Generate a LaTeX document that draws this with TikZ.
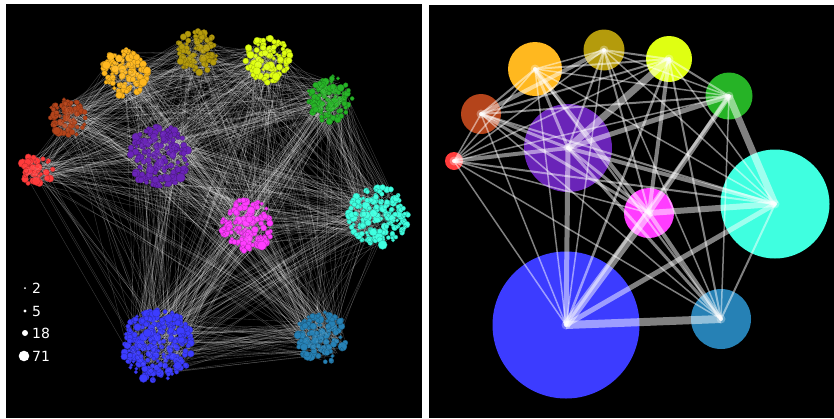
\documentclass[tikz,border=0pt]{standalone}
\usepackage{fontspec}
\setmainfont{DejaVu Sans}
\usetikzlibrary{calc}
\definecolor{cR}{HTML}{FF3B3B}
\definecolor{cBr}{HTML}{B4441B}
\definecolor{cO}{HTML}{FFB81F}
\definecolor{cOl}{HTML}{B49B0C}
\definecolor{cY}{HTML}{DFFF12}
\definecolor{cG}{HTML}{26B326}
\definecolor{cP}{HTML}{6A24B8}
\definecolor{cC}{HTML}{3FFFE0}
\definecolor{cM}{HTML}{FF3CFF}
\definecolor{cB}{HTML}{3C3CFF}
\definecolor{cS}{HTML}{2681B5}
\def\radR{16}\def\radBr{19}\def\radO{24}\def\radOl{21}\def\radY{23}\def\radG{23}
\def\radP{31}\def\radM{26}\def\radC{30}\def\radB{36}\def\radS{26}
\def\edgelist{B/R/1.5, B/Br/1.5, B/O/1.5, B/Ol/1.5, B/Y/2.5, B/G/3, B/P/5, B/M/8, B/C/5, B/S/8,
S/R/1.5, S/Br/1.5, S/O/2, S/Ol/1.5, S/Y/2, S/G/1.5, S/P/3, S/M/4, S/C/2,
C/R/2, C/Br/2, C/O/1.5, C/Ol/1.5, C/Y/1.5, C/G/7, C/P/4, C/M/6,
M/R/1.5, M/Br/3, M/O/4, M/Ol/2, M/Y/4, M/G/5, M/P/3,
P/R/4, P/Br/3, P/O/3, P/Ol/2, P/Y/7, P/G/5,
R/Br/1.5, R/O/1.5, R/Ol/1.5, R/Y/1.5, R/G/1.5,
Br/O/2, Br/Ol/4, Br/Y/2, Br/G/2,
O/Ol/1.5, O/Y/2, O/G/1.5,
Ol/Y/2, Ol/G/1.5,
Y/G/2}
\begin{document}
\begin{tikzpicture}[x=1pt,y=-1pt,
  panel/.style={fill=black},
  ledge/.style={white, opacity=0.25, line width=0.35pt},
  iedge/.style={opacity=0.3, line width=0.3pt},
  bubble/.style={circle, inner sep=0pt, draw=none},
  redge/.style={white, opacity=0.5},
  legtext/.style={anchor=west, text=white, inner sep=0pt, font=\fontsize{14}{16}\selectfont}]
\useasboundingbox (0,0) rectangle (834,418);
\fill[white] (0,0) rectangle (834,418);
\fill[panel] (6,4) rectangle (422,418);
\fill[panel] (429,5) rectangle (834,418);
% ---------------- left panel ----------------
\coordinate (LR) at (37,170);
\coordinate (LBr) at (67,118);
\coordinate (LO) at (125,72);
\coordinate (LOl) at (197,52);
\coordinate (LY) at (268,60);
\coordinate (LG) at (330,99);
\coordinate (LP) at (159,156);
\coordinate (LM) at (247,225);
\coordinate (LC) at (378,216);
\coordinate (LB) at (157,345);
\coordinate (LS) at (322,337);
\pgfmathsetseed{7}
\foreach \a/\b/\w in \edgelist {
  \pgfmathtruncatemacro\k{7*\w}
  \edef\ra{\csname rad\a\endcsname}
  \edef\rb{\csname rad\b\endcsname}
  \foreach \j in {1,...,\k} {
    \pgfmathsetmacro\aa{360*rnd}
    \pgfmathsetmacro\ab{360*rnd}
    \pgfmathsetmacro\rra{0.9*\ra*sqrt(rnd)}
    \pgfmathsetmacro\rrb{0.9*\rb*sqrt(rnd)}
    \draw[ledge] ($(L\a)+(\aa:\rra)$) -- ($(L\b)+(\ab:\rrb)$);
  }
}
\foreach \c in {R,Br,O,Ol,Y,G,P,M,C,B,S} {
  \edef\rc{\csname rad\c\endcsname}
  \pgfmathtruncatemacro\n{0.2*\rc*\rc}
  \foreach \j in {1,...,\n} {
    \pgfmathsetmacro\aa{360*rnd}
    \pgfmathsetmacro\rra{\rc*sqrt(rnd)}
    \pgfmathsetmacro\s{1.8+3*rnd*rnd}
    \fill[c\c, draw=c\c!70!black, line width=0.3pt] ($(L\c)+(\aa:\rra)$) circle (\s pt);
  }
  \foreach \j in {1,...,30} {
    \pgfmathsetmacro\aa{360*rnd}
    \pgfmathsetmacro\ab{360*rnd}
    \pgfmathsetmacro\rra{0.8*\rc*sqrt(rnd)}
    \pgfmathsetmacro\rrb{0.8*\rc*sqrt(rnd)}
    \draw[iedge, c\c!60!white] ($(L\c)+(\aa:\rra)$) -- ($(L\c)+(\ab:\rrb)$);
  }
}
% legend
\fill[white] (25,288) circle (1pt);
\node[legtext] (l2) at (32,288) {2};
\fill[white] (25,311) circle (1.7pt);
\node[legtext] (l5) at (32,311) {5};
\fill[white] (25,333) circle (3pt);
\node[legtext] (l18) at (32,333) {18};
\fill[white] (24,356) circle (5.3pt);
\node[legtext] (l71) at (32,356) {71};
% ---------------- right panel ----------------
\node[bubble, fill=cR,  minimum size=18pt]  (R)  at (454,161) {};
\node[bubble, fill=cBr, minimum size=40pt]  (Br) at (481,114) {};
\node[bubble, fill=cO,  minimum size=54pt]  (O)  at (535,69) {};
\node[bubble, fill=cOl, minimum size=41pt]  (Ol) at (604,50) {};
\node[bubble, fill=cY,  minimum size=46pt]  (Y)  at (669,59) {};
\node[bubble, fill=cG,  minimum size=47pt]  (G)  at (729,96) {};
\node[bubble, fill=cP,  minimum size=88pt]  (P)  at (568,148) {};
\node[bubble, fill=cC,  minimum size=109pt] (C)  at (775,204) {};
\node[bubble, fill=cM,  minimum size=50pt]  (M)  at (649,213) {};
\node[bubble, fill=cB,  minimum size=147pt] (B)  at (566,325) {};
\node[bubble, fill=cS,  minimum size=60pt]  (S)  at (721,319) {};
\foreach \a/\b/\w in \edgelist {
  \draw[redge, line width=\w pt] (\a.center) -- (\b.center);
}
\foreach \n in {R,Br,O,Ol,Y,G,P,C,M,B,S} {
  \fill[white, opacity=0.3] (\n.center) circle (4.5pt);
  \fill[white, opacity=0.9] (\n.center) circle (2pt);
}
\end{tikzpicture}
\end{document}
